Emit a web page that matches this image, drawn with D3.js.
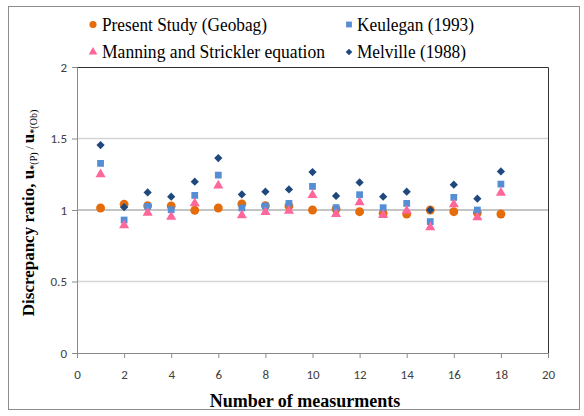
<!DOCTYPE html>
<html><head><meta charset="utf-8">
<script src="https://cdn.jsdelivr.net/npm/d3@7"></script>
<style>body{margin:0;background:#fff}svg{display:block}</style>
</head><body>
<script>
const measurements = [1,2,3,4,5,6,7,8,9,10,11,12,13,14,15,16,17,18];
const presentStudy = [1.014,1.04,1.03,1.028,0.998,1.014,1.042,1.03,1.028,1.0,1.007,0.988,0.977,0.972,1.0,0.988,0.98,0.972];
const keulegan     = [1.326,0.93,1.025,1.002,1.102,1.244,1.014,1.028,1.046,1.165,1.016,1.107,1.016,1.046,0.919,1.088,1.0,1.181];
const manning      = [1.25,0.893,0.98,0.953,1.046,1.17,0.963,0.986,0.995,1.105,0.972,1.054,0.965,0.995,0.879,1.04,0.949,1.12];
const melville     = [1.454,1.02,1.123,1.093,1.198,1.363,1.109,1.128,1.144,1.265,1.098,1.193,1.093,1.128,1.0,1.177,1.079,1.27];
const xTicks = [0,2,4,6,8,10,12,14,16,18,20];
const yTicks = [0,0.5,1,1.5,2];
const seriesNames = ["Present Study (Geobag)","Keulegan (1993)","Manning and Strickler equation","Melville (1988)"];

const W=584,H=416;
const svg=d3.select("body").append("svg").attr("width",W).attr("height",H);
svg.append("rect").attr("x",8.5).attr("y",6.5).attr("width",571).attr("height",403).attr("fill","#fff").attr("stroke","#8c8c8c");

const x=d3.scaleLinear().domain([0,20]).range([77,548]);
const y=d3.scaleLinear().domain([0,2]).range([353,67]);

// gridlines
svg.append("g").selectAll("line").data(yTicks.filter(d=>d>0&&d<2)).join("line")
  .attr("x1",x(0)).attr("x2",x(20)).attr("y1",d=>y(d)).attr("y2",d=>y(d))
  .attr("stroke",d=>d===1?"#8a8a8a":"#d4d4d4").attr("stroke-width",d=>d===1?1:1.5);
// plot border top/right
svg.append("path").attr("d",`M${x(0)},${y(2)+0.5}H${x(20)+0.5}V${y(0)}`).attr("fill","none").attr("stroke","#333").attr("stroke-width",1);

const xAxis=svg.append("g").attr("transform",`translate(0,${y(0)})`)
  .call(d3.axisBottom(x).tickValues(xTicks).tickSize(5).tickPadding(12).tickFormat(d3.format("d")));
const yAxis=svg.append("g").attr("transform",`translate(${x(0)},0)`)
  .call(d3.axisLeft(y).tickValues(yTicks).tickSize(5).tickPadding(5).tickFormat(d=>String(d)));
[xAxis,yAxis].forEach(a=>{
  a.select(".domain").attr("stroke","#8a8a8a");
  a.selectAll(".tick line").attr("stroke","#8a8a8a");
  a.selectAll("text").attr("fill","#404040").attr("font-family","Carlito, 'Liberation Sans', Arial, sans-serif").attr("font-size",13);
});

const colors=["#E46C0A","#558ED5","#FF6699","#1F497D"];
const sym=[d3.symbolCircle,d3.symbolSquare,d3.symbolTriangle,d3.symbolSquare];
const rot=[0,0,0,45];
const sizes=[62,46,44,34];
const all=[presentStudy,keulegan,manning,melville];
all.forEach((vals,i)=>{
  svg.append("g").selectAll("path").data(vals).join("path")
    .attr("transform",(d,j)=>`translate(${x(measurements[j])},${y(d)}) rotate(${rot[i]})`)
    .attr("d",d3.symbol().type(sym[i]).size(sizes[i])).attr("fill",colors[i]);
});

// legend
const leg=[[93,24.5],[349,24.5],[93,52],[349,52]];
const legSizes=[40,34,32,22];
const legLen=[165,117,223,109];
seriesNames.forEach((n,i)=>{
  svg.append("path").attr("transform",`translate(${leg[i][0]},${leg[i][1]}) rotate(${rot[i]})`)
    .attr("d",d3.symbol().type(sym[i]).size(legSizes[i])).attr("fill",colors[i]);
  svg.append("text").attr("x",leg[i][0]+(i===1||i===3?8:9)).attr("y",leg[i][1]+6).text(n)
    .attr("textLength",legLen[i]).attr("lengthAdjust","spacingAndGlyphs")
    .attr("font-family","'Liberation Serif','Times New Roman',serif").attr("font-size",18).attr("fill","#000");
});

// axis titles
svg.append("text").attr("x",305).attr("y",407).attr("text-anchor","middle")
  .attr("font-family","'Liberation Serif','Times New Roman',serif").attr("font-weight","bold").attr("font-size",18)
  .text("Number of measurments");
const yt=svg.append("text").attr("transform",`translate(34,213) rotate(-90)`).attr("text-anchor","middle")
  .attr("font-family","'Liberation Serif','Times New Roman',serif").attr("font-weight","bold").attr("font-size",17);
yt.append("tspan").text("Discrepancy ratio, u");
yt.append("tspan").attr("font-size",10).attr("dy",3).text("*");
yt.append("tspan").attr("font-size",10).attr("font-weight","normal").text("(P)");
yt.append("tspan").attr("font-size",12).attr("dy",-3).attr("font-weight","normal").text(" / ");
yt.append("tspan").text("u");
yt.append("tspan").attr("font-size",10).attr("dy",3).text("*");
yt.append("tspan").attr("font-size",10).attr("font-weight","normal").text("(Ob)");
</script>
</body></html>
